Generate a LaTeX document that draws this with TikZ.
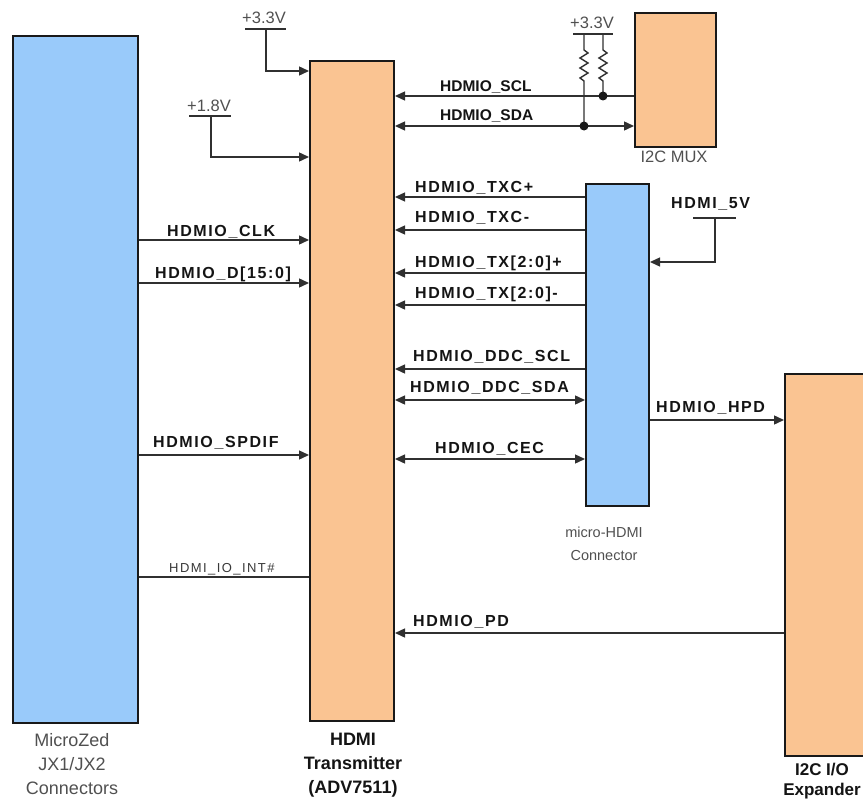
\documentclass[tikz,border=0pt]{standalone}
\usepackage{fontspec}
\setmainfont{Liberation Sans}
\newfontfamily\sigf[LetterSpace=10]{Liberation Sans}
\newfontfamily\intf[LetterSpace=11]{Liberation Sans}
\usetikzlibrary{arrows.meta}
\definecolor{bluef}{RGB}{153,202,250}
\definecolor{orangef}{RGB}{250,196,146}
\definecolor{edge}{RGB}{25,25,25}
\definecolor{graytxt}{RGB}{80,80,80}
\definecolor{sigtxt}{RGB}{20,20,20}
\tikzset{
  box/.style={draw=edge, line width=2pt, inner sep=0pt, anchor=north west},
  sig/.style={draw=edge!90, line width=1.4pt},
  tip/.style={-{Triangle[length=10pt,width=9pt]}},
  rtip/.style={{Triangle[length=10pt,width=9pt]}-},
  btip/.style={{Triangle[length=10pt,width=9pt]}-{Triangle[length=10pt,width=9pt]}},
  siglbl/.style={anchor=base west, inner sep=0pt, text=sigtxt, font=\sigf\bfseries\fontsize{16}{18}\selectfont},
  toplbl/.style={anchor=base west, inner sep=0pt, text=sigtxt, font=\bfseries\fontsize{15.5}{18}\selectfont},
  intlbl/.style={anchor=base west, inner sep=0pt, text=graytxt!70!black, font=\intf\fontsize{13}{15}\selectfont},
  pwr/.style={anchor=base, inner sep=0pt, text=graytxt, font=\fontsize{16.5}{18}\selectfont},
  blabel/.style={anchor=north, inner sep=0pt, align=center, text=graytxt},
  dot/.style={circle, fill=edge, inner sep=0pt, minimum size=9pt},
}
\begin{document}
\begin{tikzpicture}[x=1pt,y=-1pt]
\useasboundingbox (0,0) rectangle (863,800);

% blocks
\node[box, fill=bluef, minimum width=125pt, minimum height=687pt] (mz) at (12,35) {};
\node[box, fill=orangef, minimum width=84pt, minimum height=660pt] (tx) at (309,60) {};
\node[box, fill=orangef, minimum width=81pt, minimum height=134pt] (mux) at (634,12) {};
\node[box, fill=bluef, minimum width=63pt, minimum height=322pt] (mh) at (585,183) {};
\node[box, fill=orangef, minimum width=100pt, minimum height=382pt] (ex) at (784,373) {};

% block labels
\node[blabel, font=\fontsize{18}{24}\selectfont] (mzl) at (72,733) {MicroZed\\JX1/JX2\\Connectors};
\node[blabel, text=sigtxt, font=\bfseries\fontsize{18}{24}\selectfont] (txl) at (353,733) {HDMI\\Transmitter\\(ADV7511)};
\node[blabel, font=\fontsize{16.5}{18}\selectfont] (muxl) at (674,151) {I2C MUX};
\node[blabel, font=\fontsize{14.5}{23}\selectfont] (mhl) at (604,527) {micro-HDMI\\Connector};
\node[blabel, text=sigtxt, font=\bfseries\fontsize{17}{20}\selectfont] (exl) at (822,763) {I2C I/O\\Expander};

% row coordinates
\coordinate (r33) at (0,71);
\coordinate (r18) at (0,157);
\coordinate (rscl) at (0,96);
\coordinate (rsda) at (0,126);
\coordinate (rtxcp) at (0,197);
\coordinate (rtxcm) at (0,230);
\coordinate (rtxp) at (0,273);
\coordinate (rtxm) at (0,305);
\coordinate (rddcscl) at (0,369);
\coordinate (rddcsda) at (0,400);
\coordinate (rcec) at (0,459);
\coordinate (r5v) at (0,262);
\coordinate (rhpd) at (0,420);
\coordinate (rclk) at (0,240);
\coordinate (rd) at (0,283);
\coordinate (rspdif) at (0,455);
\coordinate (rint) at (0,577);
\coordinate (rpd) at (0,633);

% power +3.3V to transmitter
\node[pwr] (p33) at (264,24) {+3.3V};
\draw[sig] (245,29) -- (286,29);
\coordinate (p33b) at (266,29);
\draw[sig, tip] (p33b) |- (tx.west |- r33);

% power +1.8V
\node[pwr] (p18) at (209,111) {+1.8V};
\draw[sig] (189,116) -- (231,116);
\coordinate (p18b) at (211,116);
\draw[sig, tip] (p18b) |- (tx.west |- r18);

% I2C bus to MUX
\draw[sig, rtip] (tx.east |- rscl) -- (mux.west |- rscl);
\draw[sig, btip] (tx.east |- rsda) -- (mux.west |- rsda);
\node[toplbl] (lscl) at (440,92) {HDMIO\_SCL};
\node[toplbl] (lsda) at (440,121) {HDMIO\_SDA};

% pull-ups
\node[pwr] (p33r) at (592,29) {+3.3V};
\draw[sig] (573,34) -- (613,34);
\coordinate (ra) at (584,34);
\coordinate (rb) at (603,34);
\draw[sig] (ra) -- (584,50) -- (588,53) -- (580,58) -- (588,63) -- (580,68) -- (588,73) -- (580,78) -- (584,81) -- (584,126);
\draw[sig] (rb) -- (603,50) -- (607,53) -- (599,58) -- (607,63) -- (599,68) -- (607,73) -- (599,78) -- (603,81) -- (603,96);
\node[dot] (dscl) at (603,96) {};
\node[dot] (dsda) at (584,126) {};

% micro-HDMI signals
\draw[sig, rtip] (tx.east |- rtxcp) -- (mh.west |- rtxcp);
\draw[sig, rtip] (tx.east |- rtxcm) -- (mh.west |- rtxcm);
\draw[sig, rtip] (tx.east |- rtxp) -- (mh.west |- rtxp);
\draw[sig, rtip] (tx.east |- rtxm) -- (mh.west |- rtxm);
\draw[sig, rtip] (tx.east |- rddcscl) -- (mh.west |- rddcscl);
\draw[sig, btip] (tx.east |- rddcsda) -- (mh.west |- rddcsda);
\draw[sig, btip] (tx.east |- rcec) -- (mh.west |- rcec);
\node[siglbl] (ltxcp) at (415,192) {HDMIO\_TXC+};
\node[siglbl] (ltxcm) at (415,222) {HDMIO\_TXC-};
\node[siglbl] (ltxp) at (415,267) {HDMIO\_TX[2:0]+};
\node[siglbl] (ltxm) at (415,298) {HDMIO\_TX[2:0]-};
\node[siglbl] (lddcscl) at (413,361) {HDMIO\_DDC\_SCL};
\node[siglbl] (lddcsda) at (410,392) {HDMIO\_DDC\_SDA};
\node[siglbl] (lcec) at (435,453) {HDMIO\_CEC};

% HDMI_5V
\node[siglbl] (l5v) at (671,208) {HDMI\_5V};
\draw[sig] (693,218) -- (736,218);
\coordinate (p5v) at (715,218);
\draw[sig, tip] (p5v) |- (mh.east |- r5v);

% HPD
\draw[sig, tip] (mh.east |- rhpd) -- (ex.west |- rhpd);
\node[siglbl] (lhpd) at (656,412) {HDMIO\_HPD};

% MicroZed to transmitter
\draw[sig, tip] (mz.east |- rclk) -- (tx.west |- rclk);
\draw[sig, tip] (mz.east |- rd) -- (tx.west |- rd);
\draw[sig, tip] (mz.east |- rspdif) -- (tx.west |- rspdif);
\draw[sig] (mz.east |- rint) -- (tx.west |- rint);
\node[siglbl] (lclk) at (167,236) {HDMIO\_CLK};
\node[siglbl] (ld) at (155,278) {HDMIO\_D[15:0]};
\node[siglbl] (lspdif) at (153,447) {HDMIO\_SPDIF};
\node[intlbl] (lint) at (169,572) {HDMI\_IO\_INT\#};

% PD
\draw[sig, rtip] (tx.east |- rpd) -- (ex.west |- rpd);
\node[siglbl] (lpd) at (413,626) {HDMIO\_PD};
\end{tikzpicture}
\end{document}
